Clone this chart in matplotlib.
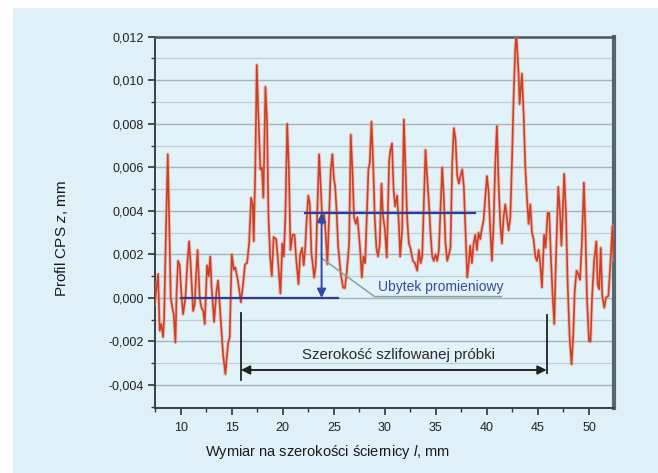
import matplotlib
matplotlib.use("Agg")
import matplotlib.pyplot as plt
from matplotlib.ticker import MultipleLocator, FuncFormatter
from matplotlib.patches import Rectangle

plt.rcParams['font.family'] = ['Liberation Sans', 'DejaVu Sans']
plt.rcParams['mathtext.fontset'] = 'custom'
plt.rcParams['mathtext.rm'] = 'Liberation Sans'
plt.rcParams['mathtext.it'] = 'Liberation Sans:italic'

# ---- data: profile (x in mm, z in micrometres = 0.001 mm) ----
x_mm = [7.45, 7.62, 7.78, 7.94, 8.10, 8.27, 8.37, 8.55, 8.73, 8.85, 9.02, 9.18, 9.31, 9.48,
        9.60, 9.74, 9.90, 10.05, 10.23, 10.46, 10.65, 10.82, 10.98, 11.21, 11.37, 11.50,
        11.65, 11.86, 12.03, 12.20, 12.35, 12.58, 12.75, 12.90, 13.01, 13.27, 13.50, 13.66,
        13.85, 13.99, 14.15, 14.38, 14.50, 14.64, 14.80, 15.00, 15.20, 15.35, 15.60, 15.90,
        16.10, 16.30, 16.50, 16.70, 16.90, 17.05, 17.15, 17.30, 17.45, 17.60, 17.80, 17.95,
        18.10, 18.30, 18.45, 18.60, 18.76, 18.92, 19.10, 19.35, 19.55, 19.77, 19.95, 20.10,
        20.25, 20.43, 20.60, 20.75, 20.95, 21.15, 21.30, 21.54, 21.70, 21.90, 22.05, 22.20,
        22.35, 22.50, 22.65, 22.81, 22.90, 23.07, 23.23, 23.40, 23.56, 23.72, 23.88, 24.05,
        24.21, 24.37, 24.53, 24.70, 24.86, 25.00, 25.13, 25.25, 25.42, 25.68, 25.91, 26.08,
        26.25, 26.50, 26.60, 26.66, 26.82, 26.98, 27.15, 27.31, 27.57, 27.74, 27.90, 28.07,
        28.23, 28.39, 28.52, 28.69, 28.85, 29.01, 29.17, 29.33, 29.50, 29.67, 29.83, 29.99,
        30.19, 30.42, 30.55, 30.70, 30.85, 31.00, 31.20, 31.37, 31.50, 31.70, 31.86, 32.02,
        32.18, 32.35, 32.50, 32.75, 32.95, 33.17, 33.33, 33.50, 33.66, 33.82, 33.98, 34.15,
        34.31, 34.47, 34.64, 34.80, 34.96, 35.13, 35.29, 35.45, 35.62, 35.78, 35.94, 36.11,
        36.27, 36.43, 36.60, 36.76, 36.92, 37.09, 37.25, 37.41, 37.58, 37.74, 37.90, 38.07,
        38.20, 38.36, 38.53, 38.69, 38.86, 39.02, 39.18, 39.35, 39.51, 39.67, 39.84, 40.00,
        40.16, 40.33, 40.49, 40.65, 40.82, 40.98, 41.14, 41.31, 41.47, 41.63, 41.80, 41.96,
        42.12, 42.29, 42.45, 42.62, 42.80, 42.90, 43.10, 43.20, 43.43, 43.60, 43.76, 43.92,
        44.08, 44.25, 44.41, 44.57, 44.74, 44.90, 45.06, 45.22, 45.39, 45.60, 45.75, 45.95,
        46.10, 46.30, 46.45, 46.60, 46.75, 46.99, 47.15, 47.30, 47.45, 47.57, 47.75, 47.90,
        48.10, 48.29, 48.45, 48.60, 48.78, 48.95, 49.12, 49.30, 49.50, 49.65, 49.80, 50.00,
        50.15, 50.30, 50.50, 50.72, 50.85, 51.00, 51.15, 51.30, 51.50, 51.65, 51.90, 52.10,
        52.30, 52.45]
z_um = [-0.3, 0.4, 1.1, -1.5, -1.2, -1.8, -1.0, 3.0, 6.6, 4.0, 0.0, -0.45, -0.75, -2.05,
        0.3, 1.7, 1.5, 0.3, -0.75, 0.0, 1.6, 2.6, 1.5, -0.6, -0.3, 1.0,
        2.2, 0.0, -0.45, -0.6, -1.2, 1.5, 1.0, 1.9, 0.6, -1.1, 0.3, 0.8,
        -0.5, -1.5, -2.6, -3.5, -2.8, -2.1, -1.8, 2.0, 1.3, 1.4, 0.8, -0.2,
        0.6, 1.55, 1.6, 2.5, 4.6, 4.3, 2.6, 5.8, 10.7, 8.5, 5.9, 6.0,
        4.6, 9.7, 8.2, 3.7, 1.9, 1.0, 2.8, 2.7, 1.6, 0.2, 2.5, 1.9,
        3.7, 8.0, 5.9, 2.2, 2.9, 2.9, 1.86, 0.63, 2.0, 2.3, 1.5, 2.3,
        3.7, 4.7, 4.3, 2.0, 1.7, 0.94, 1.5, 4.3, 6.6, 5.1, 3.4, 3.9,
        2.9, 1.55, 3.7, 5.9, 6.6, 5.5, 5.1, 4.2, 2.4, 1.1, 0.48, 0.45,
        1.1, 2.5, 5.8, 7.5, 5.9, 3.7, 3.4, 3.7, 2.3, 0.94, 1.9, 1.6,
        3.7, 5.9, 6.2, 8.1, 6.2, 3.7, 2.3, 1.9, 2.5, 5.25, 3.7, 3.2,
        1.86, 6.3, 6.8, 7.1, 5.0, 4.2, 4.7, 3.4, 1.9, 3.2, 8.2, 5.9,
        3.7, 2.5, 2.3, 1.7, 1.6, 1.25, 2.2, 1.6, 1.9, 4.3, 6.8, 5.5,
        4.4, 3.0, 1.9, 1.7, 2.0, 1.7, 2.2, 4.0, 6.0, 4.6, 2.5, 1.7,
        2.0, 2.3, 6.2, 7.8, 7.3, 5.6, 5.25, 5.6, 5.9, 5.1, 3.1, 0.94,
        1.5, 2.4, 1.6, 2.5, 2.9, 2.2, 3.0, 2.7, 3.2, 3.55, 4.6, 5.6,
        4.9, 3.1, 1.7, 3.4, 6.2, 7.9, 5.3, 3.4, 2.5, 3.7, 4.3, 3.7,
        3.1, 3.7, 6.2, 9.3, 11.7, 12.0, 10.3, 8.9, 10.3, 8.4, 6.0, 4.6,
        3.4, 4.3, 3.0, 2.7, 1.9, 1.7, 2.2, 1.6, 0.48, 2.9, 2.3, 3.9,
        3.9, 1.5, 0.0, -1.2, 1.6, 5.1, 4.0, 2.4, 4.2, 5.7, 3.8, 0.8,
        -1.8, -3.05, -1.8, 0.3, 1.25, 1.1, 0.83, 2.5, 5.3, 3.1, 0.0, -2.0,
        -2.0, 0.0, 1.7, 2.6, 0.6, 0.4, 2.3, 0.1, -0.45, 0.0, 0.1, 1.6,
        3.3, 1.8]

# annotation values (mm)
base_level = 0.0
base_x = [10.0, 25.4]
top_level = 0.0039
top_x = [22.2, 38.8]
arrow_x = 23.8
width_left = 15.9
width_right = 45.85
width_arrow_z = -0.00331
width_tick_top = [-0.00068, -0.00078]
width_tick_bot = [-0.00377, -0.00346]
label_loss = "Ubytek promieniowy"
label_width = "Szerokość szlifowanej próbki"

xticks = [10, 15, 20, 25, 30, 35, 40, 45, 50]

z_mm = [v / 1000.0 for v in z_um]

fig = plt.figure(figsize=(6.58, 4.73), dpi=100, facecolor='white')
panel_col = '#dff0f8'
fig.patches.append(Rectangle((13 / 658, 0), 1 - 13 / 658, 1 - 8 / 473,
                             transform=fig.transFigure, facecolor=panel_col,
                             edgecolor='none', zorder=-10))

ax = fig.add_axes([155 / 658, 1 - 408.3 / 473, (614 - 155) / 658, (408.3 - 36.7) / 473])
ax.set_facecolor('#e2f2f9')
ax.set_xlim(7.48, 52.45)
ax.set_ylim(-0.00507, 0.012)

# grid
ax.yaxis.set_major_locator(MultipleLocator(0.002))
ax.yaxis.set_minor_locator(MultipleLocator(0.001))
ax.xaxis.set_major_locator(MultipleLocator(5))
ax.xaxis.set_minor_locator(MultipleLocator(2.5))
ax.set_xticks(xticks)
ax.grid(axis='y', which='major', color='#a9b3b7', lw=1.0, zorder=0)
ax.grid(axis='y', which='minor', color='#c3cdd1', lw=0.9, zorder=0)
ax.set_axisbelow(True)

ax.yaxis.set_major_formatter(FuncFormatter(lambda v, p: f"{v:.3f}".replace('.', ',').replace('\u2212', '-')))
ax.xaxis.set_major_formatter(FuncFormatter(lambda v, p: f"{v:.0f}"))
ax.tick_params(axis='both', which='major', direction='out', length=5, width=1.2,
               colors='#333333', labelsize=9, labelcolor='#222222')
ax.tick_params(axis='both', which='minor', direction='out', length=3, width=1.0, colors='#333333')
ax.tick_params(axis='y', pad=3)
ax.tick_params(axis='x', pad=5)

for side, lw, col in [('left', 1.4, '#3a3f42'), ('bottom', 1.4, '#3a3f42'),
                      ('top', 1.8, '#4a585e'), ('right', 3.0, '#56676e')]:
    ax.spines[side].set_linewidth(lw)
    ax.spines[side].set_color(col)

# profile
ax.plot(x_mm, z_mm, color='#e8a08c', lw=2.6, alpha=0.55, zorder=3, solid_joinstyle='round')
ax.plot(x_mm, z_mm, color='#cf3f26', lw=1.2, zorder=4, solid_joinstyle='round')

# radial loss annotation (blue)
blue = '#2e3a94'
ax.plot(base_x, [base_level, base_level], color=blue, lw=1.6, zorder=5)
ax.plot(top_x, [top_level, top_level], color=blue, lw=1.6, zorder=5)
ax.annotate('', xy=(arrow_x, top_level), xytext=(arrow_x, base_level),
            arrowprops=dict(arrowstyle='<|-|>', color='#3148a8', lw=1.4,
                            mutation_scale=13, shrinkA=0, shrinkB=0), zorder=6)
# leader line
ax.plot([arrow_x, 29.0, 41.4], [0.00183, 0.00006, 0.00006], color='#8c9ca3', lw=1.1, zorder=5)
ax.text(29.3, 0.00050, label_loss, color='#3a4a9c', fontsize=10, ha='left', va='center', zorder=6)

# width annotation (black)
dark = '#222222'
ax.plot([width_left, width_left], [width_tick_top[0], width_tick_bot[0]], color=dark, lw=1.3, zorder=5)
ax.plot([width_right, width_right], [width_tick_top[1], width_tick_bot[1]], color=dark, lw=1.3, zorder=5)
ax.annotate('', xy=(width_left, width_arrow_z), xytext=(width_right, width_arrow_z),
            arrowprops=dict(arrowstyle='<|-|>', color=dark, lw=1.4,
                            mutation_scale=13, shrinkA=0, shrinkB=0), zorder=6)
ax.text(31.3, -0.00262, label_width, color='#2a2a2a', fontsize=10.8, ha='center', va='center', zorder=6)

fig.text(62 / 658, 1 - 238 / 473, r"Profil CPS $\mathit{z}$, mm", fontsize=11, color='#1a1a1a',
         rotation=90, ha='center', va='center')
fig.text(327 / 658, 1 - 452 / 473, r"Wymiar na szerokości ściernicy $\mathit{l}$, mm", fontsize=10.5,
         color='#1a1a1a', ha='center', va='center')

fig.savefig('out.png', dpi=100, facecolor=fig.get_facecolor())
